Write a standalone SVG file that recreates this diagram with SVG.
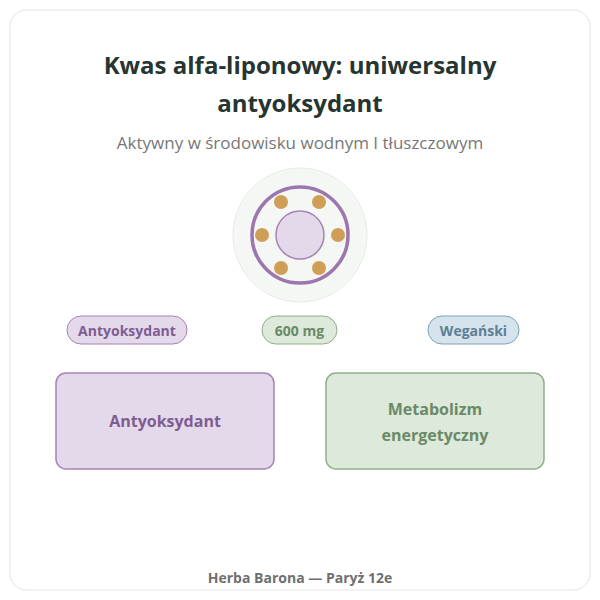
<svg xmlns="http://www.w3.org/2000/svg" width="600" height="600" viewBox="0 0 600 600">
<style>
text{font-family:"Open Sans","Noto Sans","Liberation Sans",sans-serif;text-anchor:middle}
.b{font-weight:bold}
.dot{fill:#cf9f57}
</style>
<rect x="0" y="0" width="600" height="600" fill="#fff"/>
<rect x="10" y="10" width="580" height="580" rx="16" fill="#fff" stroke="#e4e4e4"/>
<text class="b" x="300" y="74" font-size="24" fill="#263530">Kwas alfa-liponowy: uniwersalny</text>
<text class="b" x="300" y="112" font-size="24" fill="#263530">antyoksydant</text>
<text x="300" y="149" font-size="17" fill="#777">Aktywny w środowisku wodnym I tłuszczowym</text>
<g id="emblem">
<circle cx="300" cy="235" r="67" fill="#f5f7f4" stroke="#e6ebe4"/>
<circle cx="300" cy="235" r="48" fill="none" stroke="#9c76ae" stroke-width="3.5"/>
<circle cx="300" cy="235" r="24" fill="#e4d9ea" stroke="#a584b5" stroke-width="1.5"/>
<circle class="dot" cx="262" cy="235" r="7"/><circle class="dot" cx="338" cy="235" r="7"/>
<circle class="dot" cx="281" cy="202" r="7"/><circle class="dot" cx="319" cy="202" r="7"/>
<circle class="dot" cx="281" cy="268" r="7"/><circle class="dot" cx="319" cy="268" r="7"/>
</g>
<g id="pill1"><rect x="67" y="316" width="120" height="28" rx="14" fill="#e4d9ea" stroke="#a584b5"/><text class="b" x="127" y="336" font-size="14" fill="#7f5d92">Antyoksydant</text></g>
<g id="pill2"><rect x="262" y="316" width="75" height="28" rx="14" fill="#dde9da" stroke="#8fb08a"/><text class="b" x="299.500" y="336" font-size="14" fill="#6b8a67">600 mg</text></g>
<g id="pill3"><rect x="428" y="316" width="91" height="28" rx="14" fill="#d5e3ec" stroke="#7fa2b8"/><text class="b" x="473.500" y="336" font-size="14" fill="#5c7f95">Wegański</text></g>
<g id="box1"><rect x="56" y="373" width="218" height="96" rx="10" fill="#e4d9ea" stroke="#a584b5" stroke-width="1.5"/><text class="b" x="165" y="427" font-size="16" fill="#7f5d92">Antyoksydant</text></g>
<g id="box2"><rect x="326" y="373" width="218" height="96" rx="10" fill="#dde9da" stroke="#8fb08a" stroke-width="1.5"/><text class="b" x="435" y="415" font-size="16" fill="#6b8a67">Metabolizm</text><text class="b" x="435" y="441" font-size="16" fill="#6b8a67">energetyczny</text></g>
<g id="connectors"/>
<text class="b" x="300" y="583" font-size="14" fill="#6f6f6f">Herba Barona — Paryż 12e</text>
</svg>
